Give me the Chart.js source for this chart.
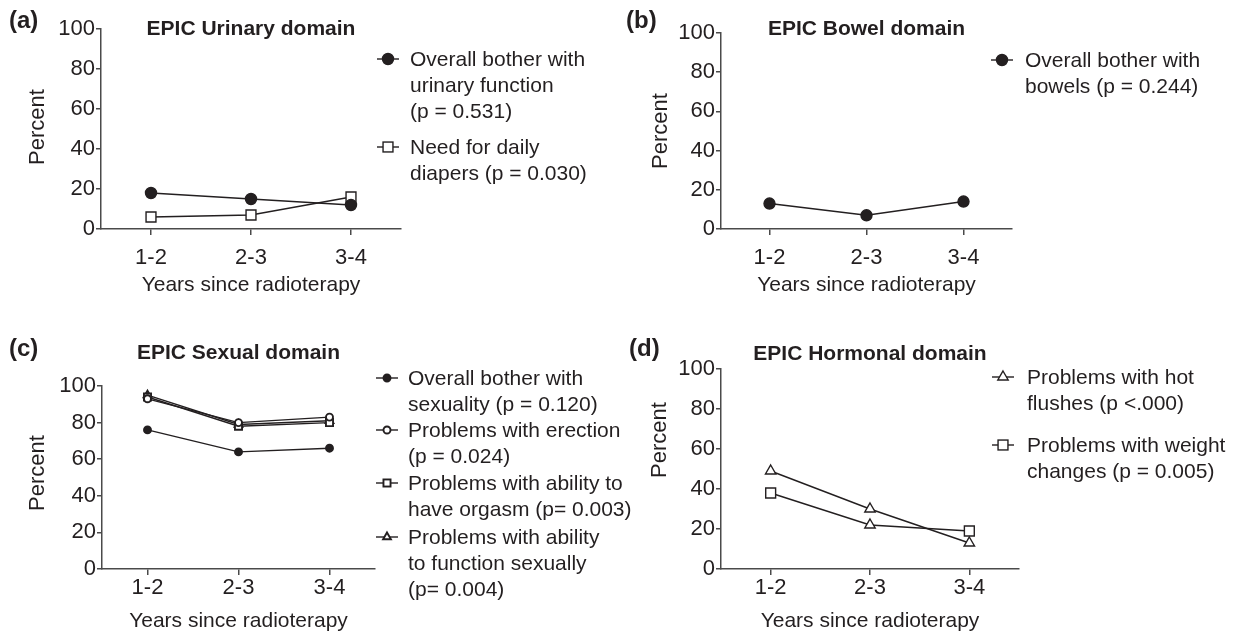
<!DOCTYPE html>
<html><head><meta charset="utf-8">
<script src="https://cdn.jsdelivr.net/npm/chart.js@4.4.1/dist/chart.umd.min.js"></script>
<style>
html,body{margin:0;padding:0;background:#fff;}
#wrap{position:relative;width:1235px;height:636px;overflow:hidden;font-family:"Liberation Sans",Arial,sans-serif;color:#231f20;}
canvas{position:absolute;left:0;top:0;}
.letter{position:absolute;font-weight:bold;font-size:24px;line-height:24px;white-space:nowrap;}
.item{position:absolute;font-size:21px;line-height:26px;white-space:nowrap;}
.item svg{position:absolute;top:5px;}
</style></head><body><div id="wrap"></div>
<script>
// ---------- data ----------
const categories = ['1-2', '2-3', '3-4'];
const yTickValues = [0, 20, 40, 60, 80, 100];

const urinaryBother = [18, 15, 12];
const urinaryDiapers = [6, 7, 16];
const bowelBother = [13, 7, 14];
const sexualBother = [76, 64, 66];
const sexualErection = [93, 80, 83];
const sexualOrgasm = [94, 78, 80];
const sexualFunction = [95, 79, 81];
const hormonalHotFlushes = [49, 30, 13];
const hormonalWeight = [38, 22, 19];

const panelLetters = ['(a)', '(b)', '(c)', '(d)'];
const panelTitles = ['EPIC Urinary domain', 'EPIC Bowel domain', 'EPIC Sexual domain', 'EPIC Hormonal domain'];
const xAxisTitle = 'Years since radioterapy';
const yAxisTitle = 'Percent';

const legendUrinary = [['Overall bother with', 'urinary function', '(p = 0.531)'], ['Need for daily', 'diapers (p = 0.030)']];
const legendBowel = [['Overall bother with', 'bowels (p = 0.244)']];
const legendSexual = [['Overall bother with', 'sexuality (p = 0.120)'], ['Problems with erection', '(p = 0.024)'], ['Problems with ability to', 'have orgasm (p= 0.003)'], ['Problems with ability', 'to function sexually', '(p= 0.004)']];
const legendHormonal = [['Problems with hot', 'flushes (p <.000)'], ['Problems with weight', 'changes (p = 0.005)']];

// ---------- styles / layout ----------
const INK = '#231f20';
const AXIS = '#4a4a4a';
const FONT = '"Liberation Sans", Arial, sans-serif';
const W = 1235, H = 636;

const panels = [
  {
    area: {left: 101, right: 401, top: 29, bottom: 229}, letterPos: [9, 8], titleBase: 35,
    yTitle: [38, 127], xTitleY: 285, tickPad: 10, bw: 1.4,
    legend: {left: 410, markerX: 388, tops: [46, 134], lines: legendUrinary},
    series: [
      {data: urinaryBother, style: 'circle', r: 5.5, fill: INK},
      {data: urinaryDiapers, style: 'rect', r: 7, fill: '#fff'}
    ]
  },
  {
    area: {left: 721, right: 1012, top: 33, bottom: 229}, letterPos: [626, 8], titleBase: 35,
    yTitle: [661, 131], xTitleY: 285, tickPad: 10, bw: 1.4,
    legend: {left: 1025, markerX: 1002, tops: [47], lines: legendBowel},
    series: [
      {data: bowelBother, style: 'circle', r: 5.5, fill: INK}
    ]
  },
  {
    area: {left: 102, right: 375, top: 386, bottom: 569}, letterPos: [9, 336], titleBase: 359,
    yTitle: [38, 473], xTitleY: 621, tickPad: 0, bw: 1.9,
    legend: {left: 408, markerX: 387, tops: [365, 417, 470, 524], lines: legendSexual},
    series: [
      {data: sexualBother, style: 'circle', r: 3.5, fill: INK},
      {data: sexualErection, style: 'circle', r: 3.5, fill: '#fff'},
      {data: sexualOrgasm, style: 'rect', r: 5, fill: '#fff'},
      {data: sexualFunction, style: 'triangle', r: 4.5, fill: '#fff'}
    ]
  },
  {
    area: {left: 721, right: 1019, top: 369, bottom: 569}, letterPos: [629, 336], titleBase: 360,
    yTitle: [660, 440], xTitleY: 621, tickPad: 0, bw: 1.4,
    legend: {left: 1027, markerX: 1003, tops: [364, 432], lines: legendHormonal},
    series: [
      {data: hormonalHotFlushes, style: 'triangle', r: 6, fill: '#fff'},
      {data: hormonalWeight, style: ['rect', 'triangle', 'rect'], r: [7, 6, 7], legendStyle: 'rect', legendR: 7, fill: '#fff'}
    ]
  }
];

const Y_AXIS_W = 60, X_AXIS_H = 40;
const wrap = document.getElementById('wrap');

function markerSVG(style, r, fill, bw) {
  const cx = 13, cy = 8;
  let shape = '';
  if (style === 'circle') {
    shape = `<circle cx="${cx}" cy="${cy}" r="${r}" fill="${fill}" stroke="${INK}" stroke-width="${bw}"/>`;
  } else if (style === 'rect') {
    const s = r * Math.SQRT1_2;
    shape = `<rect x="${cx - s}" y="${cy - s}" width="${2 * s}" height="${2 * s}" fill="${fill}" stroke="${INK}" stroke-width="${bw}"/>`;
  } else {
    const p = [[cx, cy - r], [cx + r * 0.866, cy + r * 0.5], [cx - r * 0.866, cy + r * 0.5]];
    shape = `<polygon points="${p.map(q => q.join(',')).join(' ')}" fill="${fill}" stroke="${INK}" stroke-width="${bw}"/>`;
  }
  return `<svg width="26" height="16" viewBox="0 0 26 16"><line x1="2" y1="${cy}" x2="24" y2="${cy}" stroke="${INK}" stroke-width="1.4"/>${shape}</svg>`;
}

panels.forEach((p, i) => {
  const cv = document.createElement('canvas');
  cv.width = W; cv.height = H;
  cv.style.width = W + 'px'; cv.style.height = H + 'px';
  wrap.appendChild(cv);

  const decor = {
    id: 'decor' + i,
    afterDraw(chart) {
      const ctx = chart.ctx, ca = chart.chartArea;
      const mid = (ca.left + ca.right) / 2;
      ctx.save();
      ctx.fillStyle = INK;
      ctx.font = 'bold 21px ' + FONT;
      ctx.textAlign = 'center';
      ctx.textBaseline = 'alphabetic';
      ctx.fillText(panelTitles[i], mid, p.titleBase);
      ctx.font = '21px ' + FONT;
      ctx.textBaseline = 'middle';
      ctx.fillText(xAxisTitle, mid, p.xTitleY);
      ctx.translate(p.yTitle[0], p.yTitle[1]);
      ctx.rotate(-Math.PI / 2);
      ctx.font = '22px ' + FONT;
      ctx.fillText(yAxisTitle, 0, 0);
      ctx.restore();
    }
  };

  new Chart(cv, {
    type: 'line',
    data: {
      labels: categories,
      datasets: p.series.map(s => ({
        data: s.data,
        borderColor: INK,
        borderWidth: 1.4,
        tension: 0,
        fill: false,
        pointStyle: s.style,
        pointRadius: s.r,
        pointBackgroundColor: s.fill,
        pointBorderColor: INK,
        pointBorderWidth: p.bw,
        clip: false
      }))
    },
    options: {
      responsive: false,
      animation: false,
      devicePixelRatio: 1,
      layout: {
        padding: {
          left: p.area.left - Y_AXIS_W,
          right: W - p.area.right,
          top: p.area.top,
          bottom: H - p.area.bottom - X_AXIS_H
        }
      },
      plugins: {legend: {display: false}, tooltip: {enabled: false}, title: {display: false}},
      scales: {
        x: {
          type: 'category',
          offset: true,
          afterFit: s => { s.height = X_AXIS_H; },
          border: {display: true, color: AXIS, width: 1.5},
          grid: {drawOnChartArea: false, drawTicks: true, tickLength: 6, color: AXIS, lineWidth: 1.5},
          ticks: {color: INK, font: {family: FONT, size: 22}, padding: p.tickPad, maxRotation: 0}
        },
        y: {
          min: yTickValues[0],
          max: yTickValues[yTickValues.length - 1],
          afterFit: s => { s.width = Y_AXIS_W; },
          afterBuildTicks: s => { s.ticks = yTickValues.map(v => ({value: v})); },
          border: {display: true, color: AXIS, width: 1.5},
          grid: {drawOnChartArea: false, drawTicks: true, tickLength: 5, color: AXIS, lineWidth: 1.5},
          ticks: {color: INK, font: {family: FONT, size: 22}, padding: 1}
        }
      }
    },
    plugins: [decor]
  });

  // panel letter
  const L = document.createElement('div');
  L.className = 'letter';
  L.style.left = p.letterPos[0] + 'px';
  L.style.top = p.letterPos[1] + 'px';
  L.textContent = panelLetters[i];
  wrap.appendChild(L);

  // legend
  p.series.forEach((s, k) => {
    const it = document.createElement('div');
    it.className = 'item';
    it.style.left = p.legend.left + 'px';
    it.style.top = p.legend.tops[k] + 'px';
    it.innerHTML = markerSVG(s.legendStyle || s.style, s.legendR || s.r, s.fill, p.bw) +
      p.legend.lines[k].map(t => `<div>${t.replace(/</g, '&lt;')}</div>`).join('');
    it.querySelector('svg').style.left = (p.legend.markerX - 13 - p.legend.left) + 'px';
    wrap.appendChild(it);
  });
});
</script>
</body></html>
